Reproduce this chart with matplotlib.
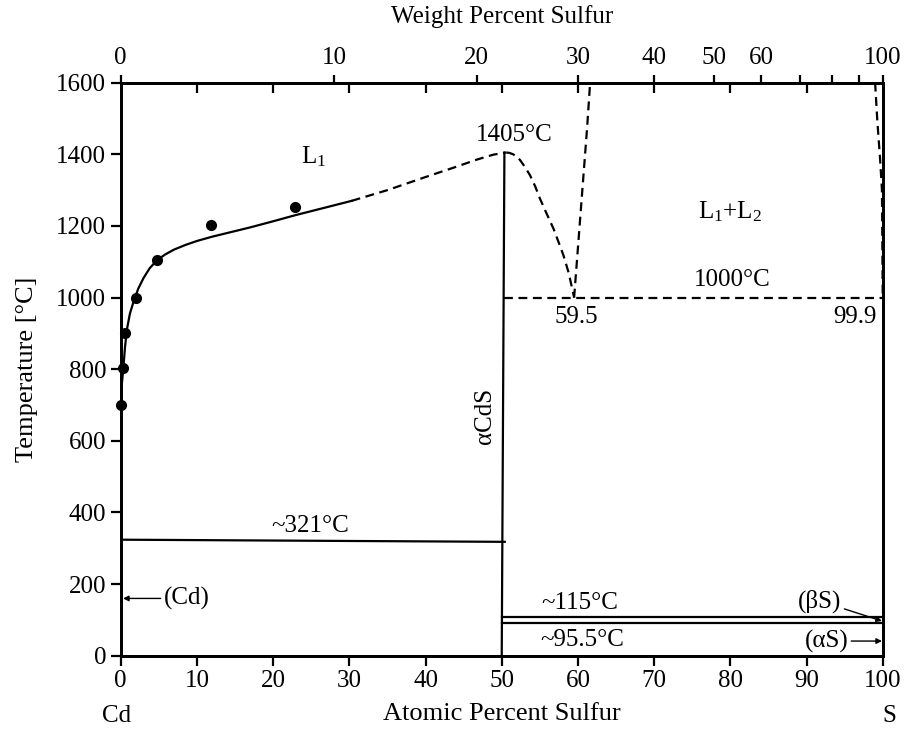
import matplotlib
matplotlib.use('Agg')
import matplotlib.pyplot as plt
import numpy as np

plt.rcParams['font.family'] = ['Liberation Serif', 'DejaVu Serif']
plt.rcParams['mathtext.fontset'] = 'custom'
plt.rcParams['mathtext.rm'] = 'Liberation Serif'
plt.rcParams['mathtext.default'] = 'regular'
plt.rcParams['font.size'] = 18

# atomic percent S / temperature (C)
liq_x = [0.0, 0.15, 0.35, 0.55, 0.8, 1.2, 1.7, 2.3, 3.0, 3.8, 4.7, 5.8, 7.0, 8.5,
         10.0, 12.0, 14.5, 17.0, 20.0, 22.9, 25.5, 27.9, 30.3]
liq_T = [697, 760, 805, 860, 910, 955, 990, 1025, 1055, 1082, 1103, 1120, 1134, 1147,
         1158, 1170, 1183, 1196, 1213, 1230, 1244, 1257, 1270]
liq_dash_x = [30.3, 35.0, 40.2, 44.0, 46.7, 48.9, 50.6]
liq_dash_T = [1270, 1300, 1338, 1365, 1385, 1399, 1405]
dome_x = [50.6, 51.0, 51.5, 52.0, 52.4, 53.0, 53.7, 54.4, 55.0, 55.9, 56.8, 57.4, 58.1, 58.8, 59.5]
dome_T = [1405, 1404, 1400, 1393, 1384, 1366, 1342, 1310, 1277, 1234, 1192, 1158, 1118, 1068, 1000]
gap_left_x = [59.5, 61.2, 61.6]
gap_left_T = [1000, 1473, 1600]
gap_right_x = [99.0, 99.3, 99.65, 99.9, 100.0]
gap_right_T = [1600, 1490, 1388, 1300, 1000]

pts_x = [0.0, 0.35, 0.56, 2.0, 4.7, 11.9, 22.9]
pts_T = [699, 803, 900, 999, 1106, 1202, 1252]

cds_x = [50.0, 50.35]
cds_T = [0, 1405]
eut_x = [0, 50.4]
eut_T = [324, 318]
mono_x = [50.3, 100]
mono_T = [1000, 1000]
beta_x = [50.0, 100]
beta_T = [109, 109]
alpha_x = [50.0, 100]
alpha_T = [91, 91]

at_ticks = list(range(0, 101, 10))
wt_labeled = [0, 10, 20, 30, 40, 50, 60, 100]
wt_unlabeled = [70, 80, 90]
M_S, M_CD = 32.06, 112.41


def wt_to_at(w):
    w = np.asarray(w, dtype=float)
    ns = w / M_S
    ncd = (100 - w) / M_CD
    return 100 * ns / (ns + ncd)


fig = plt.figure(figsize=(9.12, 7.29), dpi=100)
ax = fig.add_axes([0.1324, 0.1005, 0.8355, 0.7861])

lw = 1.6
dash = (4, 2.5)
ax.plot(liq_x, liq_T, 'k-', lw=lw)
ax.plot(liq_dash_x, liq_dash_T, 'k--', lw=lw, dashes=dash)
ax.plot(dome_x, dome_T, 'k--', lw=lw, dashes=dash)
ax.plot(gap_left_x, gap_left_T, 'k--', lw=lw, dashes=dash)
ax.plot(gap_right_x, gap_right_T, 'k--', lw=lw, dashes=dash, clip_on=False)
ax.plot(mono_x, mono_T, 'k--', lw=lw, dashes=dash)
ax.plot(pts_x, pts_T, 'ko', ms=7, clip_on=False)
ax.plot(cds_x, cds_T, 'k-', lw=lw)
ax.plot(eut_x, eut_T, 'k-', lw=lw)
ax.plot(beta_x, beta_T, 'k-', lw=lw)
ax.plot(alpha_x, alpha_T, 'k-', lw=lw)

ax.set_xlim(0, 100)
ax.set_ylim(0, 1600)
ax.set_xticks(at_ticks)
ax.set_yticks(range(0, 1601, 200))
ax.tick_params(direction='out', length=7, width=1.6, labelsize=18)
for s in ax.spines.values():
    s.set_linewidth(2)
ax.set_ylabel('Temperature [°C]', fontsize=19, labelpad=13)
ax.set_xlabel('Atomic Percent Sulfur', fontsize=19, labelpad=8)

# top axis: weight percent
ax2 = ax.twiny()
ax2.set_xlim(0, 100)
ax2.set_xticks(list(wt_to_at(wt_labeled)) + list(wt_to_at(wt_unlabeled)),
               [str(w) for w in wt_labeled] + [''] * len(wt_unlabeled))
ax2.set_xticks(at_ticks[1:-1], minor=True)
ax2.tick_params(which='major', direction='out', length=6, width=1.6, labelsize=18, pad=4)
ax2.tick_params(which='minor', direction='in', length=7, width=1.6)
ax2.set_xlabel('Weight Percent Sulfur', fontsize=18, labelpad=17)
for s in ax2.spines.values():
    s.set_linewidth(2)

# labels
ax.text(25.3, 1393, 'L$_1$', ha='center', va='center', fontsize=18)
ax.text(51.6, 1454, '1405°C', ha='center', va='center', fontsize=18)
ax.text(80.0, 1239, 'L$_1$+L$_2$', ha='center', va='center', fontsize=18)
ax.text(80.2, 1048, '1000°C', ha='center', va='center', fontsize=18)
ax.text(59.8, 945, '59.5', ha='center', va='center', fontsize=18)
ax.text(96.4, 945, '99.9', ha='center', va='center', fontsize=18)
ax.text(47.8, 669, 'αCdS', ha='center', va='center', rotation=90, fontsize=18)
ax.text(24.9, 361, '~321°C', ha='center', va='center', fontsize=18)
ax.text(60.3, 147, '~115°C', ha='center', va='center', fontsize=18)
ax.text(60.5, 44, '~95.5°C', ha='center', va='center', fontsize=18)

arrow = dict(arrowstyle='-|>', color='k', lw=1.0, mutation_scale=8, shrinkA=0, shrinkB=0)
ax.annotate('(Cd)', xy=(0.3, 160), xytext=(5.6, 160), ha='left', va='center',
            fontsize=18, arrowprops=arrow)
ax.annotate('(βS)', xy=(99.9, 97), xytext=(94.6, 120), ha='right', va='bottom',
            fontsize=18, arrowprops=arrow)
ax.annotate('(αS)', xy=(99.9, 41), xytext=(95.5, 41), ha='right', va='center',
            fontsize=18, arrowprops=arrow)

ax.text(-0.5, -0.105, 'Cd', transform=ax.get_xaxis_transform(), ha='center', va='center', fontsize=18)
ax.text(100.9, -0.105, 'S', transform=ax.get_xaxis_transform(), ha='center', va='center', fontsize=18)

fig.savefig('out.png', dpi=100)
